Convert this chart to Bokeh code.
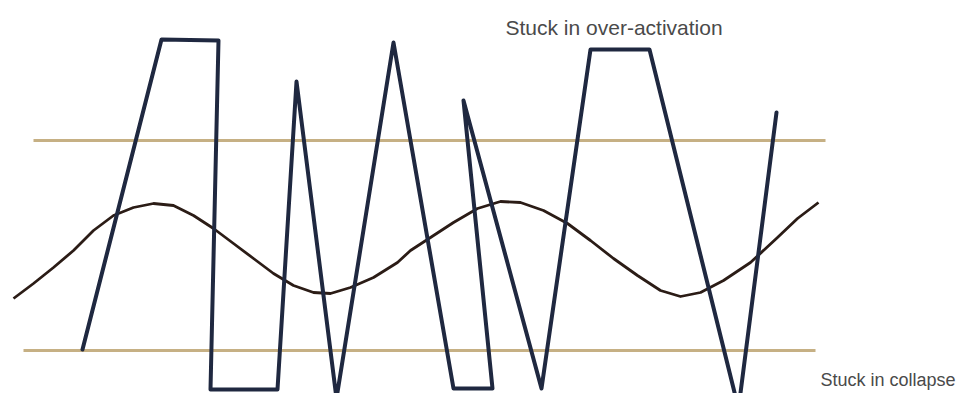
from bokeh.plotting import figure
from bokeh.models import Range1d
from bokeh.core.properties import value
from bokeh.embed import file_html
from bokeh.resources import INLINE

# Activation trace (zig-zag), x position and level
swing_x = [82, 161, 218, 210, 277, 296, 336, 393, 453, 492, 463, 541, 590, 649, 738, 776]
swing_y = [60, 370, 369, 20, 20, 328, 11, 367, 21, 21, 309, 21, 360, 360, 1, 297]

# Smooth baseline wave
wave_x = [13, 33, 53, 73, 93, 113, 133, 153, 173, 193, 213, 233, 253, 273, 293, 313, 330,
          350, 373, 397, 410, 430, 453, 477, 500, 520, 543, 567, 590, 613, 637, 660, 680,
          700, 723, 750, 777, 797, 818]
wave_y = [111, 126, 142, 159, 179, 194, 202, 206, 204, 194, 181, 166, 151, 136, 124, 117, 116,
          122, 132, 147, 159, 172, 187, 201, 208, 207, 199, 186, 169, 151, 134, 119, 113,
          117, 129, 147, 172, 191, 207]

# Threshold lines: level, start x, end x
thr_level = [269, 59]
thr_x0 = [33, 23]
thr_x1 = [825, 815]

p = figure(width=958, height=393, output_backend="svg", toolbar_location=None,
           x_range=Range1d(0, 958), y_range=Range1d(16, 409),
           min_border=0, min_border_left=0, min_border_right=0,
           min_border_top=0, min_border_bottom=0)
p.axis.visible = False
p.grid.visible = False
p.outline_line_color = None
p.background_fill_color = "white"
p.border_fill_color = "white"

p.segment(x0=thr_x0, y0=thr_level, x1=thr_x1, y1=thr_level,
          line_color="#c6b084", line_width=3)

p.line(wave_x, wave_y, line_color="#2b1c16", line_width=2.8, line_join="round")

p.line(swing_x, swing_y, line_color="#1f2840", line_width=4, line_join="round",
       line_cap="round")

p.text(x=[505], y=[382], text=["Stuck in over-activation"],
       text_font=value("Liberation Sans"), text_font_size="21px", text_color="#4a4a4a",
       text_baseline="alphabetic", text_align="left")
p.text(x=[955], y=[30], text=["Stuck in collapse"],
       text_font=value("Liberation Sans"), text_font_size="18px", text_color="#4a4a4a",
       text_baseline="alphabetic", text_align="right")

open("out.html", "w").write(file_html(p, INLINE))
